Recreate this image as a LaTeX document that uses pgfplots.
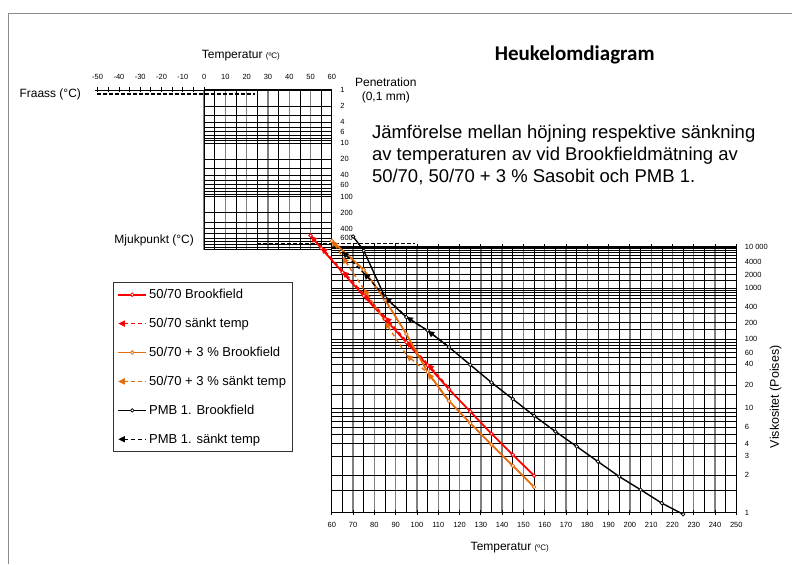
\documentclass[border=0pt]{standalone}
\usepackage{fontspec}
\setmainfont{Liberation Sans}
\newfontfamily\calibri{Carlito}
\usepackage{pgfplots}
\pgfplotsset{compat=1.18}
\usetikzlibrary{arrows.meta,decorations.pathreplacing}

\definecolor{bfred}{RGB}{255,0,0}
\definecolor{bforange}{RGB}{228,108,10}
\definecolor{gridgray}{RGB}{128,128,128}
\definecolor{framegray}{RGB}{140,140,140}

\newcommand\smalltxt{\fontsize{7.5}{8}\selectfont}
\newcommand\mediumtxt{\fontsize{12}{14}\selectfont}
\newcommand\legtxt{\fontsize{13}{15}\selectfont}

% series measured while lowering the temperature: every segment is dashed
% and carries an arrow head at its colder end
\tikzset{
  cooled/.style={decorate, decoration={show path construction,
    lineto code={\draw[#1, line width=1.4pt, dash pattern=on 4pt off 3pt,
      {Triangle[length=6.5pt,width=6pt]}-]
      (\tikzinputsegmentfirst) -- (\tikzinputsegmentlast);}}},
}

\pgfplotsset{
  heukelom grid/.style={
    grid=both,
    every major x grid/.style={gridgray, line width=1.3pt},
    every minor x grid/.style={black, line width=0.6pt},
    every major y grid/.style={black, line width=0.7pt},
    every minor y grid/.style={black, line width=0.7pt},
    major grid style={},
    minor grid style={},
  },
  solidleg/.style={legend image code/.code={
    \draw[mark repeat=2,mark phase=2,##1] plot coordinates {(0pt,0pt) (14pt,0pt) (28pt,0pt)};}},
  arrowleg/.style={legend image code/.code={
    \draw[#1, line width=1.4pt, dash pattern=on 4pt off 4pt,
      {Triangle[length=6.5pt,width=6pt]}-] (0pt,0pt) -- (28pt,0pt);}},
}

\begin{document}
\begin{tikzpicture}[x=1pt,y=-1pt]
\path (0,0) rectangle (792,564);
\draw[framegray, line width=0.8pt] (8,564) -- (8,13) -- (792,13);

% ---------- penetration panel ----------
\begin{axis}[
  at={(204.2pt,-250pt)}, anchor=south west,
  scale only axis, width=127.8pt, height=160pt,
  xmin=0, xmax=60, ymode=log, ymin=1, ymax=1000, y dir=reverse,
  clip=false,
  axis line style={black, line width=1pt},
  xtick={0,10,...,60}, minor xtick={5,15,...,55}, xticklabels={},
  ytick={1,2,4,6,10,20,40,60,100,200,400,600},
  yticklabels={1,2,4,6,10,20,40,60,100,200,400,600},
  minor ytick={3,5,7,8,9,30,50,70,80,90,300,500,700,800,900},
  yticklabel pos=right,
  yticklabel style={font=\smalltxt, anchor=west, xshift=5pt},
  major tick length=0pt, minor tick length=0pt,
  heukelom grid,
]
% temperature scale continued below 0 degC
\addplot[black, line width=0.8pt, mark=+, mark size=2.5pt]
  coordinates {(-50,1) (-45,1) (-40,1) (-35,1) (-30,1) (-25,1) (-20,1)
               (-15,1) (-10,1) (-5,1) (0,1)};
% Fraass breaking point
\addplot[black, line width=1.6pt, dash pattern=on 4pt off 2pt]
  coordinates {(-50.5,1.2) (24,1.2)};
% softening point (ring and ball)
\addplot[black, line width=1.6pt, dash pattern=on 4pt off 2pt]
  coordinates {(25,760) (99,760)};
\pgfplotsinvokeforeach{-50,-40,...,60}{
  \node[font=\smalltxt] at ([yshift=13pt]axis cs:#1,1) {#1};
}
\end{axis}

% ---------- viscosity panel ----------
\begin{axis}[
  at={(332pt,-513pt)}, anchor=south west,
  scale only axis, width=404.7pt, height=266pt,
  xmin=60, xmax=250, ymin=1, ymax=10000,
  y coord trafo/.code={\pgfmathparse{log10(log10(#1)+1.5)}},
  y coord inv trafo/.code={\pgfmathparse{10^(10^(#1)-1.5)}},
  clip=false,
  axis line style={black, line width=1pt},
  xtick={60,70,...,250}, minor xtick={65,75,...,245},
  xticklabel style={font=\smalltxt, yshift=-3pt},
  /pgf/number format/assume math mode=true,
  /pgf/number format/1000 sep={},
  x tick style={black, line width=0.8pt},
  xtick align=center, major tick length=5pt, minor tick length=0pt,
  ytick={1,2,3,4,6,10,20,40,60,100,200,400,1000,2000,4000,10000},
  yticklabels={1,2,3,4,6,10,20,40,60,100,200,400,1000,2000,4000,10 000},
  minor ytick={1.5,5,7,8,9,15,30,50,70,80,90,150,300,500,600,700,800,900,
               1500,3000,5000,6000,7000,8000,9000},
  y tick style={draw=none},
  yticklabel pos=right,
  yticklabel style={font=\smalltxt, anchor=west, xshift=5pt},
  heukelom grid,
  legend cell align=left,
  legend style={at={(-0.5411,0.8684)}, anchor=north west,
    draw=black!80, line width=0.8pt, fill=white,
    row sep=14pt, inner xsep=4pt, inner ysep=5pt,
    nodes={inner sep=2pt}},
]
\addplot[bfred, line width=1.8pt, mark=*, mark size=1.8pt,
  mark options={fill=white, line width=0.8pt}, solidleg]
  coordinates {(50,20560) (55,9222) (65,2277) (75,675) (85,232) (95,89.2)
    (105,38.3) (115,17.5) (125,9.13) (135,5.09) (145,3.10) (155,1.99)};
\addlegendentry{\legtxt 50/70 Brookfield}
\addplot[cooled=bfred, mark=none, arrowleg=bfred]
  coordinates {(50,20070) (55,10000) (65,2473) (75,745) (85,256) (95,94.5)
    (105,40.4) (115,18.3)};
\addlegendentry{\legtxt 50/70 sänkt temp}
\addplot[bforange, line width=1.8pt, mark=*, mark size=1.8pt,
  mark options={fill=white, line width=0.8pt}, solidleg]
  coordinates {(60,14604) (75,2612) (85,556) (95,123.5) (105,30.4)
    (115,12.3) (125,6.68) (135,3.90) (145,2.44) (155,1.59)};
\addlegendentry{\legtxt 50/70 + 3 \% Brookfield}
\addplot[cooled=bforange, mark=none, arrowleg=bforange]
  coordinates {(60,15560) (65,5474) (75,956) (85,206) (95,55.7) (105,29.7)
    (115,12.0)};
\addlegendentry{\legtxt 50/70 + 3 \% sänkt temp}
\addplot[black, line width=1.4pt, mark=*, mark size=1.8pt,
  mark options={fill=white, line width=0.7pt}, solidleg]
  coordinates {(70,19280) (75,7962) (85,627) (95,252) (105,142.9) (115,74.2)
    (125,39.0) (135,21.6) (145,13.0) (155,8.12) (165,5.39) (175,3.75)
    (185,2.67) (195,1.95) (205,1.51) (215,1.18) (225,0.975)};
\addlegendentry{\legtxt PMB 1. Brookfield}
\addplot[cooled=black, mark=none, arrowleg=black]
  coordinates {(65,7499) (75,2214) (85,643) (95,255.6) (105,141) (115,75.0)};
\addlegendentry{\legtxt PMB 1. sänkt temp}
\end{axis}

% ---------- titles and labels ----------
\node[font=\mediumtxt] at (241,56)
  {Temperatur {\fontsize{8}{9}\selectfont(ºC)}};
\node[font=\mediumtxt, align=center] at (386,90) {Penetration\\(0,1 mm)};
\node[font=\mediumtxt, anchor=west] at (16,94) {Fraass (°C)};
\node[font=\mediumtxt, anchor=west] at (111,241) {Mjukpunkt (°C)};
\node[font=\calibri\bfseries\fontsize{21}{24}\selectfont] at (575,55) {Heukelomdiagram};
\begin{scope}[font=\fontsize{18.5}{22}\selectfont]
\node[anchor=base west, inner sep=0pt] at (372,139) {Jämförelse mellan höjning respektive sänkning};
\node[anchor=base west, inner sep=0pt] at (372,161) {av temperaturen av vid Brookfieldmätning av};
\node[anchor=base west, inner sep=0pt] at (372,183) {50/70, 50/70 + 3 \% Sasobit och PMB 1.};
\end{scope}
\node[font=\fontsize{12.5}{14}\selectfont, rotate=90] at (776,397) {Viskositet (Poises)};
\node[font=\mediumtxt] at (510,548)
  {Temperatur {\fontsize{8}{9}\selectfont(ºC)}};
\end{tikzpicture}
\end{document}
